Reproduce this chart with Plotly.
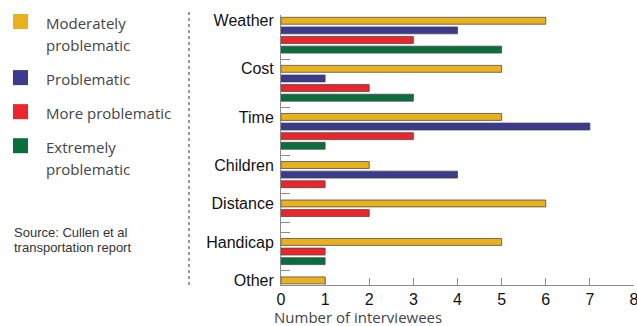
import plotly.graph_objects as go

# Survey data: number of interviewees rating each barrier
categories = ["Weather", "Cost", "Time", "Children", "Distance", "Handicap", "Other"]
moderately = [6, 5, 5, 2, 6, 5, 1]
problematic = [4, 1, 7, 4, 0, 0, 0]
more_problematic = [3, 2, 3, 1, 2, 1, 0]
extremely = [5, 3, 1, 0, 0, 1, 0]
series_names = ["Moderately problematic", "Problematic", "More problematic", "Extremely problematic"]
x_ticks = [0, 1, 2, 3, 4, 5, 6, 7, 8]
# empty separator rows drawn after each group
separators_after = [1, 1, 1, 1, 2, 1, 0]

colors = ["#EAB11F", "#3B3A8D", "#EE242B", "#0B6E3D"]
series_values = [moderately, problematic, more_problematic, extremely]

# Lay bars out row by row; zero values take no row
slot_y = [[] for _ in series_values]
slot_x = [[] for _ in series_values]
label_rows, sep_rows = [], []
row = 0
for gi, cat in enumerate(categories):
    label_rows.append(row)
    for si, vals in enumerate(series_values):
        if vals[gi] > 0:
            slot_y[si].append(row)
            slot_x[si].append(vals[gi])
            row += 1
    for _ in range(separators_after[gi]):
        sep_rows.append(row)
        row += 1
last_row = row - 1

fig = go.Figure()
for si, name in enumerate(series_names):
    fig.add_trace(go.Bar(
        x=slot_x[si], y=slot_y[si], orientation="h", name=name,
        width=0.72, marker=dict(color=colors[si], line=dict(color="rgba(70,70,70,0.75)", width=1)),
        showlegend=False,
    ))

W, H = 637, 326
L, R, T = 281, 3, 15
plot_w = W - L - R
row_px = 9.6
y_top = -0.6
y_bot = last_row + 0.48
plot_h = (y_bot - y_top) * row_px
B = H - T - plot_h


def px(xp):
    return (xp - L) / plot_w


def py(yp):
    return 1 - (yp - T) / plot_h


fig.update_layout(
    width=W, height=H,
    margin=dict(l=L, r=R, t=T, b=B),
    paper_bgcolor="white", plot_bgcolor="white",
    barmode="overlay",
    font=dict(family="Liberation Sans, Arial, sans-serif", size=16, color="#111"),
)
fig.update_xaxes(
    range=[0, 8], tickvals=x_ticks, ticktext=[str(v) for v in x_ticks],
    showgrid=False, zeroline=False, showline=True, linecolor="#8a8a8a", linewidth=1,
    ticks="inside", ticklen=7, tickcolor="#8a8a8a", tickwidth=1,
    tickfont=dict(size=16, color="#111"), ticklabeloverflow="allow", automargin=False,
)
fig.update_yaxes(
    range=[y_bot, y_top], tickvals=label_rows, ticktext=categories,
    showgrid=False, zeroline=False, showline=True, linecolor="#8a8a8a", linewidth=1,
    ticks="", ticklabelstandoff=3, automargin=False,
    tickfont=dict(size=16, color="#111"),
    minor=dict(tickmode="array", tickvals=sep_rows, ticks="inside", ticklen=9,
               tickcolor="#8a8a8a", tickwidth=1, showgrid=False),
)

shapes = []
annotations = []
# dotted divider between legend and chart
shapes.append(dict(type="line", xref="paper", yref="paper", x0=px(189), x1=px(189),
                   y0=py(12), y1=py(285), line=dict(color="#777", width=1.5, dash="dot")))

legend_font = dict(family="Open Sans, sans-serif", size=15, color="#444")
legend_items = [
    (14, ["Moderately", "problematic"]),
    (70, ["Problematic"]),
    (104, ["More problematic"]),
    (138, ["Extremely", "problematic"]),
]
for (top, lines), c in zip(legend_items, colors):
    shapes.append(dict(type="rect", xref="paper", yref="paper", x0=px(13), x1=px(28),
                       y0=py(top + 15), y1=py(top), fillcolor=c, line=dict(width=0)))
    for li, text in enumerate(lines):
        annotations.append(dict(text=text, xref="paper", yref="paper", x=px(44), y=py(top + 9 + 22 * li),
                                xanchor="left", yanchor="middle", showarrow=False, font=legend_font))

source_font = dict(family="Liberation Sans, Arial, sans-serif", size=13, color="#333")
for yy, text in [(232, "Source: Cullen et al"), (247, "transportation report")]:
    annotations.append(dict(text=text, xref="paper", yref="paper", x=px(12), y=py(yy),
                            xanchor="left", yanchor="middle", showarrow=False, font=source_font))

annotations.append(dict(text="Number of interviewees", xref="paper", yref="paper", x=px(272), y=py(316.5),
                        xanchor="left", yanchor="middle", showarrow=False,
                        font=dict(family="Open Sans, sans-serif", size=15, color="#444")))

fig.update_layout(shapes=shapes, annotations=annotations)
fig.write_html("out.html")
